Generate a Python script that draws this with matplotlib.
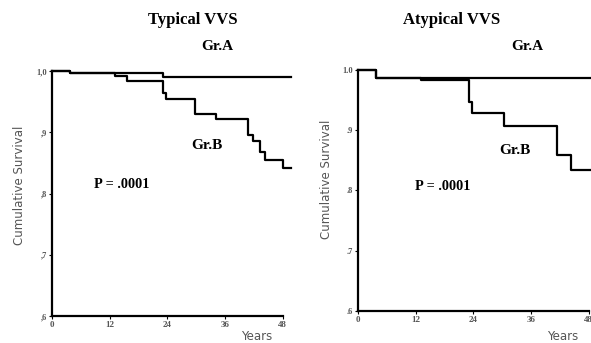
import numpy as np
import matplotlib
matplotlib.use("Agg")
import matplotlib.pyplot as plt

# Kaplan-Meier steps (years, cumulative survival)
typ_a_t = [0, 3.7, 23, 49.7]
typ_a_s = [1.0, 0.997, 0.991, 0.991]
typ_b_t = [0, 3.7, 13, 15.7, 23, 23.8, 29.7, 34.2, 40.8, 41.9, 43.2, 44.3, 48, 49.7]
typ_b_s = [1.0, 0.997, 0.992, 0.984, 0.964, 0.954, 0.929, 0.921, 0.895, 0.885,
           0.868, 0.855, 0.841, 0.841]

atyp_a_t = [0, 3.8, 49.7]
atyp_a_s = [1.0, 0.987, 0.987]
atyp_b_t = [0, 3.8, 13, 23, 23.8, 30.3, 41.3, 44.3, 49.7]
atyp_b_s = [1.0, 0.987, 0.983, 0.947, 0.928, 0.907, 0.858, 0.833, 0.833]

x_ticks = [0, 12, 24, 36, 48]
y_ticks = [0.6, 0.7, 0.8, 0.9, 1.0]
typ_ylabels = [",6", ",7", ",8", ",9", "1,0"]
atyp_ylabels = [".6", ".7", ".8", ".9", "1.0"]

serif = "Liberation Serif"
fig = plt.figure(figsize=(5.91, 3.43), dpi=100)


def km_panel(rect, curves, ylabels, title, title_x, gra_xy, grb_xy, p_xy, ylab_xy, years_x):
    ax = fig.add_axes(rect)
    for t, s in curves:
        ax.step(t, s, where="post", color="black", lw=1.6, clip_on=False)
    ax.set_xlim(0, 49.7)
    ax.set_ylim(0.6, 1.0)
    ax.spines["top"].set_visible(False)
    ax.spines["right"].set_visible(False)
    for sp in ("left", "bottom"):
        ax.spines[sp].set_linewidth(1.6)
    ax.spines["bottom"].set_bounds(0, 48)
    ax.set_xticks(x_ticks)
    ax.set_xticklabels([str(v) for v in x_ticks], fontsize=6.5, family=serif,
                       fontweight="bold", color="#555555")
    ax.set_yticks(y_ticks)
    ax.set_yticklabels(ylabels, fontsize=6, family=serif, fontweight="bold", color="#555555")
    ax.tick_params(length=2, width=0.8, pad=1.5)
    fig.text(title_x, 1 - 20 / 343, title, ha="center", va="center",
             fontsize=12, fontweight="bold", family=serif)
    fig.text(gra_xy[0] / 591, 1 - gra_xy[1] / 343, "Gr.A", ha="center", va="center",
             fontsize=11, fontweight="bold", family=serif)
    fig.text(grb_xy[0] / 591, 1 - grb_xy[1] / 343, "Gr.B", ha="center", va="center",
             fontsize=11, fontweight="bold", family=serif)
    fig.text(p_xy[0] / 591, 1 - p_xy[1] / 343, "P = .0001", ha="center", va="center",
             fontsize=10.3, fontweight="bold", family=serif)
    fig.text(ylab_xy[0] / 591, 1 - ylab_xy[1] / 343, "Cumulative Survival", rotation=90,
             ha="center", va="center", fontsize=8.5, color="#555555", family="DejaVu Sans")
    fig.text(years_x / 591, 1 - 336.5 / 343, "Years", ha="center", va="center",
             fontsize=8.5, color="#555555", family="DejaVu Sans")
    return ax


km_panel([52 / 591, 27 / 343, 239 / 591, 245 / 343],
         [(typ_a_t, typ_a_s), (typ_b_t, typ_b_s)], typ_ylabels,
         "Typical VVS", 193 / 591, (217, 47), (207, 145), (122, 185), (20, 185), 257)
km_panel([358 / 591, 32.3 / 343, 239 / 591, 240.7 / 343],
         [(atyp_a_t, atyp_a_s), (atyp_b_t, atyp_b_s)], atyp_ylabels,
         "Atypical VVS", 452 / 591, (527, 47), (515, 151), (443, 186), (327, 179), 563)

fig.savefig("out.png", dpi=100)
